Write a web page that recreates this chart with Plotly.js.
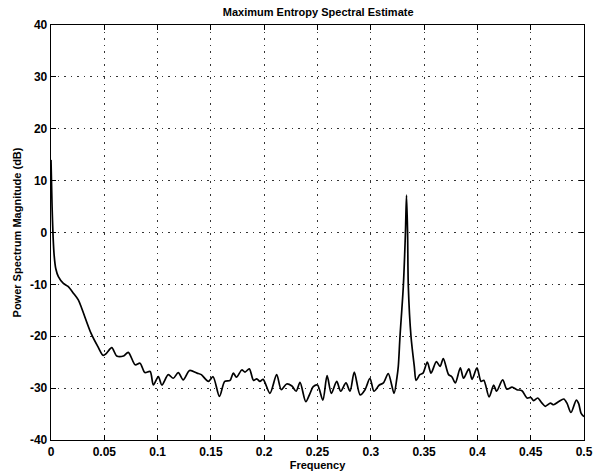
<!DOCTYPE html>
<html>
<head>
<meta charset="utf-8">
<script src="https://cdn.plot.ly/plotly-3.0.1.min.js"></script>
<style>html,body{margin:0;padding:0;background:#fff;}#chart{width:597px;height:474px;}</style>
</head>
<body>
<div id="chart"></div>
<script>
// Frequency (normalized) and power spectrum magnitude (dB)
const frequency = [
  0, 0.001, 0.002, 0.003, 0.0045, 0.0069, 0.0116, 0.016, 0.021, 0.0256, 0.0288,
  0.0375, 0.044, 0.049, 0.052, 0.057, 0.0616, 0.068, 0.0725, 0.079, 0.0835,
  0.088, 0.093, 0.096, 0.1007, 0.104, 0.110, 0.1147, 0.1194, 0.124, 0.130,
  0.137, 0.141, 0.1476, 0.152, 0.158, 0.163, 0.168, 0.171, 0.174, 0.179,
  0.182, 0.186, 0.190, 0.193, 0.196, 0.199, 0.2054, 0.2117, 0.216, 0.221,
  0.226, 0.230, 0.2336, 0.239, 0.243, 0.246, 0.250, 0.255, 0.259, 0.263,
  0.268, 0.2718, 0.2767, 0.2805, 0.2845, 0.290, 0.2946, 0.2992, 0.303, 0.308,
  0.3118, 0.3164, 0.3218, 0.3245, 0.3258, 0.3274, 0.3305, 0.3325, 0.3335,
  0.3345, 0.3352, 0.3377, 0.3408, 0.3425, 0.346, 0.349, 0.353, 0.3565,
  0.3615, 0.365, 0.368, 0.373, 0.376, 0.3793, 0.384, 0.387, 0.392, 0.395,
  0.3996, 0.4034, 0.406, 0.411, 0.4153, 0.418, 0.4237, 0.4277, 0.4325, 0.437,
  0.4418, 0.4465, 0.450, 0.4528, 0.4565, 0.4606, 0.4637, 0.4685, 0.4715,
  0.4763, 0.481, 0.484, 0.4878, 0.4928, 0.495, 0.4972, 0.5
];
const powerDb = [
  14, 5, -1, -4.5, -7, -8.5, -9.8, -10.4, -11.7, -13, -14.6,
  -19.4, -22, -23.7, -23.3, -22.2, -23.8, -23.8, -23.1, -25.5, -25.2,
  -27, -26.8, -29.4, -27.8, -29.4, -27.4, -28.1, -27, -28.4, -26.6,
  -27.1, -27.4, -28.7, -27.8, -31.6, -28.7, -28.5, -27.1, -27.9, -26.5,
  -26.9, -26.3, -28.5, -28.2, -28.7, -28.3, -31, -27.4, -30.3, -29.2,
  -29.6, -30.6, -28.9, -32.6, -31, -29.7, -29.4, -32.3, -27.6, -31,
  -28.7, -30.6, -29, -30.6, -26.9, -31.3, -30.3, -28.1, -30.6, -29.4,
  -29, -27.2, -31, -28, -25.8, -20, -10.4, 0, 7.2,
  0, -10.4, -20, -25.8, -28.5, -27.4, -27.1, -25, -27.1,
  -24.9, -25.8, -24.3, -27.4, -27.8, -29, -26.1, -28.1, -26.3, -28.3,
  -26.1, -28.7, -28.5, -31.7, -29.4, -30.6, -28.4, -30.2, -29.8, -30.3,
  -30.5, -31.9, -31.8, -32.4, -31.9, -32.9, -33.5, -32.9, -33.2,
  -32.6, -32.1, -32.9, -34.7, -32.3, -33, -34.8, -35.5
];
const xTicks = [0, 0.05, 0.1, 0.15, 0.2, 0.25, 0.3, 0.35, 0.4, 0.45, 0.5];
const xTickLabels = ["0", "0.05", "0.1", "0.15", "0.2", "0.25", "0.3", "0.35", "0.4", "0.45", "0.5"];
const yTicks = [-40, -30, -20, -10, 0, 10, 20, 30, 40];
const yTickLabels = ["-40", "-30", "-20", "-10", "0", "10", "20", "30", "40"];

const font = "Liberation Sans, Arial, Helvetica, sans-serif";

const trace = {
  x: frequency,
  y: powerDb,
  type: "scatter",
  mode: "lines",
  line: {color: "#000", width: 1.7, shape: "spline", smoothing: 0.8},
  hoverinfo: "skip"
};

const axisCommon = {
  showline: true,
  linecolor: "#000",
  linewidth: 1.3,
  mirror: "ticks",
  ticks: "inside",
  ticklen: 5,
  tickcolor: "#000",
  showgrid: true,
  gridcolor: "#333",
  griddash: "1.5px,5px",
  gridwidth: 1,
  zeroline: false,
  tickfont: {family: font, size: 12, color: "#000", weight: "bold"}
};

const layout = {
  width: 597,
  height: 474,
  margin: {l: 51, r: 13, t: 25, b: 34},
  paper_bgcolor: "#fff",
  plot_bgcolor: "#fff",
  showlegend: false,
  title: {
    text: "Maximum Entropy Spectral Estimate",
    font: {family: font, size: 11, color: "#000", weight: "bold"},
    x: 0.533, xanchor: "center", y: 0.975, yanchor: "middle"
  },
  xaxis: Object.assign({}, axisCommon, {
    range: [0, 0.5],
    tickmode: "array",
    tickvals: xTicks,
    ticktext: xTickLabels,
    title: {text: "Frequency", font: {family: font, size: 11, color: "#000", weight: "bold"}, standoff: 2}
  }),
  yaxis: Object.assign({}, axisCommon, {
    range: [-40, 40],
    tickmode: "array",
    tickvals: yTicks,
    ticktext: yTickLabels,
    title: {text: "Power Spectrum Magnitude (dB)", font: {family: font, size: 11, color: "#000", weight: "bold"}, standoff: 6}
  })
};

Plotly.newPlot("chart", [trace], layout, {displayModeBar: false, staticPlot: true});
</script>
</body>
</html>
